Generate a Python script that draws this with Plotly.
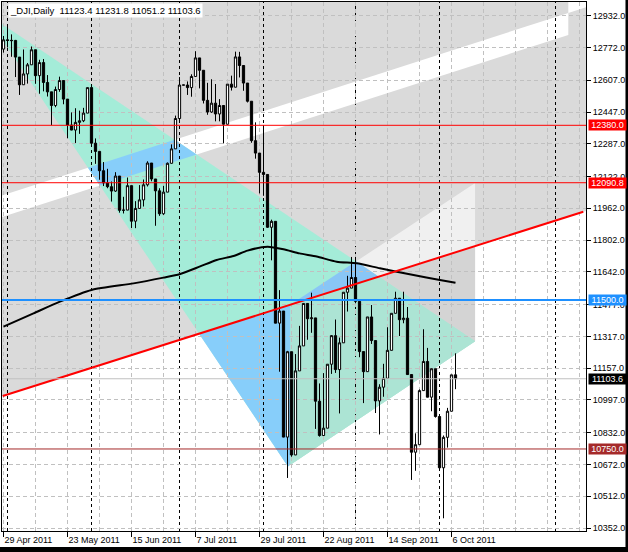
import plotly.graph_objects as go

# ---------------- data ----------------
tick_bars = [0, 16, 32, 48, 64, 80, 96, 112]
tick_labels = ["29 Apr 2011", "23 May 2011", "15 Jun 2011", "7 Jul 2011",
               "29 Jul 2011", "22 Aug 2011", "14 Sep 2011", "6 Oct 2011"]

opens = [12763.8, 12810.5, 12806.0, 12807.5, 12723.6, 12584.2, 12638.7, 12684.7, 12760.4, 12630.0,
         12695.9, 12595.8, 12548.4, 12479.6, 12560.2, 12605.3, 12512.0, 12381.3, 12356.2, 12394.7,
         12402.8, 12441.6, 12569.8, 12290.1, 12248.6, 12151.3, 12090.0, 12070.8, 12048.9, 12124.4,
         11951.9, 11953.0, 12076.1, 11897.3, 11961.5, 12004.4, 12080.4, 12190.0, 12109.7, 12050.0,
         11934.6, 12043.6, 12188.7, 12261.4, 12414.3, 12582.8, 12582.8, 12569.9, 12626.0, 12719.5,
         12657.2, 12505.8, 12446.9, 12491.6, 12437.1, 12479.7, 12385.2, 12587.4, 12571.9, 12724.4,
         12681.2, 12592.8, 12501.3, 12302.6, 12240.1, 12143.2, 12132.5, 11866.6, 11896.4, 11383.7,
         11444.6, 10809.9, 11239.8, 10719.9, 11143.3, 11269.0, 11482.9, 11405.9, 11410.2, 10990.6,
         10817.7, 10854.7, 11176.8, 11320.7, 11149.8, 11284.5, 11539.3, 11560.0, 11613.5, 11493.6,
         11240.3, 11139.3, 11414.9, 11295.8, 10992.1, 11061.1, 11105.9, 11246.7, 11433.2, 11509.1,
         11401.0, 11408.7, 11124.8, 10733.8, 10771.5, 11043.9, 11190.7, 11010.9, 11154.0, 10913.4,
         10655.3, 10808.7, 10940.0, 11123.4]
highs = [12830, 12876, 12838, 12810, 12723.6, 12762, 12694, 12777, 12760.4, 12710,
         12714, 12633, 12548.4, 12575, 12625, 12605.3, 12512, 12445, 12466, 12454,
         12468, 12570, 12569.8, 12314, 12248.6, 12195, 12161, 12097, 12144, 12124.4,
         12020, 12117, 12076.1, 11998, 12079, 12107, 12199, 12190, 12109.7, 12063,
         12075, 12193, 12284, 12429, 12623, 12582.8, 12601, 12637, 12753, 12719.5,
         12657.2, 12594, 12612, 12588, 12512, 12480, 12588, 12630, 12751, 12750,
         12681.2, 12593, 12501.3, 12395, 12240.1, 12381, 12132.5, 11905, 11897, 11550,
         11444.6, 11244, 11239.8, 11228, 11370, 11483, 11482.9, 11537, 11410.2, 11080,
         11132, 11176, 11324, 11402, 11311, 11539, 11622, 11717, 11717, 11493.6,
         11240.3, 11415, 11475, 11295.8, 11076, 11179, 11363, 11433, 11542, 11509.1,
         11542, 11465, 11124.8, 10829, 11050, 11353, 11259, 11155, 11154, 10913.4,
         10818, 10957, 11124, 11231.8]
lows = [12746, 12772, 12725, 12623, 12533, 12584, 12590, 12685, 12589, 12539,
        12551, 12525, 12381, 12471, 12549, 12486, 12315, 12355, 12291, 12337,
        12396, 12442, 12276, 12186, 12106, 12074, 12063, 11996, 12045, 11940,
        11936, 11954, 11863, 11862, 11962, 11971, 12072, 12098, 11874, 11924,
        11929, 12043, 12187, 12261, 12398, 12582.8, 12533, 12524, 12627, 12566,
        12490, 12433, 12443, 12400, 12400, 12289, 12385, 12555, 12571, 12621,
        12554, 12495, 12292, 12212, 12037, 12025, 11863, 11700, 11383, 11139,
        10809, 10604, 10711, 10719, 11143, 11269, 11300, 11335, 10851, 10812,
        10818, 10855, 11128, 11133, 10929, 11285, 11442, 11560, 11484, 11212,
        10981, 11139, 11279, 10931, 10823, 11013, 11106, 11247, 11433, 11319,
        11383, 11124, 10594, 10640, 10771, 11044, 11010, 10940, 10908, 10654,
        10401, 10757, 10939, 11051.2]
closes = [12810.5, 12807.4, 12807.5, 12723.6, 12584.2, 12638.7, 12684.7, 12760.4, 12630.0, 12695.9,
          12595.8, 12548.4, 12479.6, 12560.2, 12605.3, 12512.0, 12381.3, 12356.2, 12394.7, 12402.8,
          12441.6, 12569.8, 12290.1, 12248.6, 12151.3, 12090.0, 12070.8, 12048.9, 12124.4, 11951.9,
          11953.0, 12076.1, 11897.3, 11961.5, 12004.4, 12080.4, 12190.0, 12109.7, 12050.0, 11934.6,
          12043.6, 12188.7, 12261.4, 12414.3, 12582.8, 12582.8, 12569.9, 12626.0, 12719.5, 12657.2,
          12505.8, 12446.9, 12491.6, 12437.1, 12479.7, 12385.2, 12587.4, 12571.9, 12724.4, 12681.2,
          12592.8, 12501.3, 12302.6, 12240.1, 12143.2, 12132.5, 11866.6, 11896.4, 11383.7, 11444.6,
          10809.9, 11239.8, 10719.9, 11143.3, 11269.0, 11482.9, 11405.9, 11410.2, 10990.6, 10817.7,
          10854.7, 11176.8, 11320.7, 11149.8, 11284.5, 11539.3, 11560.0, 11613.5, 11493.6, 11240.3,
          11139.3, 11414.9, 11295.8, 10992.1, 11061.1, 11105.9, 11246.7, 11433.2, 11509.1, 11401.0,
          11408.7, 11124.8, 10733.8, 10771.5, 11043.9, 11190.7, 11010.9, 11154.0, 10913.4, 10655.3,
          10808.7, 10940.0, 11123.3, 11103.6]

ma_bars = [0, 7.5, 14.1, 22, 32.5, 40, 44, 49, 53.3, 57.5, 61, 66, 70, 74, 78.3, 83.3, 88.3,
           94.1, 102.5, 109.1, 113]
ma_vals = [11366, 11433, 11492, 11551, 11584, 11613, 11630, 11668, 11702, 11722, 11749, 11769,
           11756, 11735, 11719, 11693, 11685, 11660, 11626, 11601, 11587]

price_ticks = [12932, 12772, 12607, 12447, 12287, 12122, 11962, 11802, 11642, 11477,
               11317, 11157, 10997, 10832, 10672, 10512, 10352]

level_prices = [12380.0, 12090.8, 11500.0, 10750.0]
level_colors = ["#ff0000", "#ff0000", "#1e90ff", "#a52a2a"]
level_widths = [1, 1, 2, 1]
bid_price = 11103.6

separator_bars = [1, 22, 44, 65, 88, 109, 138]

# objects (anchor points: bar index, price)
trend_bars = [-0.2, 144.95]
trend_prices = [11016.7, 11944.7]
stripe_low_bars = [0, 141.2]
stripe_low_prices = [11920.1, 12835.4]
stripe_up_bars = [0, 141.2]
stripe_up_prices = [12029.4, 12946.1]
stripe_end_bar = 141.2
tri_bars = [-4.98, 71.1, 117.9]
tri_prices = [12952.3, 10662.0, 11293.0]
chan_bars = [71.7, 117.9, 117.9, 71.7]
chan_prices = [11476.4, 12090.0, 11293.0, 10670.1]

x_range = [-0.375, 145.625]
y_range = [10336.9, 13001.0]

title_text = "_DJI,Daily  11123.4 11231.8 11051.2 11103.6"

# ---------------- geometry helpers ----------------
def cross(a, b, p):
    return (b[0] - a[0]) * (p[1] - a[1]) - (b[1] - a[1]) * (p[0] - a[0])

def clip(poly, a, b, keep):
    out = []
    n = len(poly)
    for i in range(n):
        p, q = poly[i], poly[(i + 1) % n]
        cp, cq = keep * cross(a, b, p), keep * cross(a, b, q)
        if cp >= 0:
            out.append(p)
        if (cp >= 0) != (cq >= 0):
            t = cp / (cp - cq)
            out.append((p[0] + t * (q[0] - p[0]), p[1] + t * (q[1] - p[1])))
    return out

def clip_convex(poly, conv):
    area = sum(conv[i][0] * conv[(i + 1) % len(conv)][1] - conv[(i + 1) % len(conv)][0] * conv[i][1]
               for i in range(len(conv)))
    k = 1 if area > 0 else -1
    for i in range(len(conv)):
        if not poly:
            break
        poly = clip(poly, conv[i], conv[(i + 1) % len(conv)], k)
    return poly

def path(poly):
    return "M " + " L ".join(f"{p[0]:.4f},{p[1]:.4f}" for p in poly) + " Z"

XL, XR = x_range
YB, YT = y_range
red_a, red_b = (trend_bars[0], trend_prices[0]), (trend_bars[1], trend_prices[1])
lo_a, lo_b = (stripe_low_bars[0], stripe_low_prices[0]), (stripe_low_bars[1], stripe_low_prices[1])
up_a, up_b = (stripe_up_bars[0], stripe_up_prices[0]), (stripe_up_bars[1], stripe_up_prices[1])

full = [(XL, YB), (XR, YB), (XR, YT), (XL, YT)]
gray_above = clip(full, red_a, red_b, 1)
stripe = clip(clip([(XL, YB), (stripe_end_bar, YB), (stripe_end_bar, YT), (XL, YT)], lo_a, lo_b, 1),
              up_a, up_b, -1)
topright = clip([(stripe_end_bar, YB), (XR, YB), (XR, YT), (stripe_end_bar, YT)], up_a, up_b, 1)
S = list(zip(chan_bars, chan_prices))
S_above = clip(S, red_a, red_b, 1)
C = list(zip(tri_bars, tri_prices))
C_below = clip(C, red_a, red_b, -1)
C_blue1 = clip(C_below, (chan_bars[0], 0), (chan_bars[0], 1), 1)
C_gc = clip_convex(C_below, S)
C_blue2 = clip_convex(clip(C, red_a, red_b, 1), S)
C_blue3 = clip(clip(C, lo_a, lo_b, 1), up_a, up_b, -1)

fills = [
    (gray_above, "#dadada"),
    (stripe, "#ffffff"),
    (topright, "#ffffff"),
    (S, "#d4d4d4"),
    (S_above, "#f0f0f0"),
    (C, "#a4ecd8"),
    (C_blue1, "#87cefa"),
    (C_gc, "#ace4d4"),
    (C_blue2, "#89c6f6"),
    (C_blue3, "#87cefa"),
]

shapes = []
for poly, col in fills:
    if len(poly) >= 3:
        shapes.append(dict(type="path", path=path(poly), xref="x", yref="y",
                           fillcolor=col, line=dict(width=0), layer="below"))

for b in separator_bars:
    shapes.append(dict(type="line", xref="x", yref="y", x0=b, x1=b, y0=YB, y1=YT,
                       line=dict(color="black", width=1, dash="3px,3px"), layer="below"))

shapes.append(dict(type="line", xref="paper", yref="y", x0=0, x1=1, y0=bid_price, y1=bid_price,
                   line=dict(color="#c0c0c0", width=1), layer="above"))
for p, c, w in zip(level_prices, level_colors, level_widths):
    shapes.append(dict(type="line", xref="paper", yref="y", x0=0, x1=1, y0=p, y1=p,
                       line=dict(color=c, width=w), layer="above"))

# outer dark frame (bottom and right)
shapes.append(dict(type="rect", xref="paper", yref="paper", x0=-0.1, x1=1.2, y0=-0.2, y1=-0.0302,
                   fillcolor="black", line=dict(width=0), layer="above"))
shapes.append(dict(type="rect", xref="paper", yref="paper", x0=1.0676, x1=1.2, y0=-0.2, y1=1.2,
                   fillcolor="black", line=dict(width=0), layer="above"))

fig = go.Figure()
fig.add_trace(go.Candlestick(
    x=list(range(len(closes))), open=opens, high=highs, low=lows, close=closes,
    increasing=dict(line=dict(color="black", width=1), fillcolor="white"),
    decreasing=dict(line=dict(color="black", width=1), fillcolor="black"),
    whiskerwidth=0, showlegend=False, hoverinfo="skip"))
fig.add_trace(go.Scatter(x=ma_bars, y=ma_vals, mode="lines", line_shape="spline",
                         line=dict(color="black", width=2, smoothing=0.6),
                         showlegend=False, hoverinfo="skip"))
fig.add_trace(go.Scatter(x=trend_bars, y=trend_prices, mode="lines",
                         line=dict(color="#ff0000", width=2), showlegend=False, hoverinfo="skip"))

font = dict(family="Liberation Sans", size=9, color="black")
annotations = [dict(xref="paper", yref="paper", x=0, y=1, xanchor="left", yanchor="top",
                    xshift=6, yshift=-1, text=title_text, showarrow=False,
                    font=dict(family="Liberation Sans", size=9.5, color="black"),
                    bgcolor="white", borderpad=1)]
for p, c in list(zip(level_prices, level_colors)) + [(bid_price, "black")]:
    annotations.append(dict(xref="paper", yref="y", x=1, y=p, xanchor="left", yanchor="middle",
                            xshift=2, text=f"{p:.1f}", showarrow=False,
                            font=dict(family="Liberation Sans", size=9, color="white"),
                            bgcolor=c, borderpad=0, width=37, height=10))

grid_dash = "4px,3px"
fig.update_layout(
    width=628, height=552,
    margin=dict(l=2, r=42, t=2, b=21),
    paper_bgcolor="white", plot_bgcolor="white",
    font=font, showlegend=False,
    shapes=shapes, annotations=annotations,
    boxgap=0.2,
    xaxis=dict(range=x_range, rangeslider=dict(visible=False), tickmode="array",
               tickvals=tick_bars, ticktext=tick_labels, ticks="outside", ticklen=5,
               tickcolor="black", ticklabelposition="outside right",
               showgrid=True, gridcolor="#c0c0c0", griddash=grid_dash, gridwidth=1,
               minor=dict(tickmode="linear", tick0=0, dtick=8, showgrid=True,
                          gridcolor="#c0c0c0", griddash=grid_dash, gridwidth=1, ticks=""),
               showline=True, linecolor="black", linewidth=1, mirror=True,
               zeroline=False, automargin=False, fixedrange=True),
    yaxis=dict(range=y_range, side="right", tickmode="array", tickvals=price_ticks,
               ticktext=[f"{v:.1f}" for v in price_ticks], ticks="outside", ticklen=4,
               tickcolor="black", showgrid=True, gridcolor="#c0c0c0", griddash=grid_dash,
               gridwidth=1, showline=True, linecolor="black", linewidth=1, mirror=True,
               zeroline=False, automargin=False, fixedrange=True),
)

fig.write_html("out.html", config={"displayModeBar": False},
               post_script="document.body.style.margin='0px';document.body.style.overflow='hidden';")
